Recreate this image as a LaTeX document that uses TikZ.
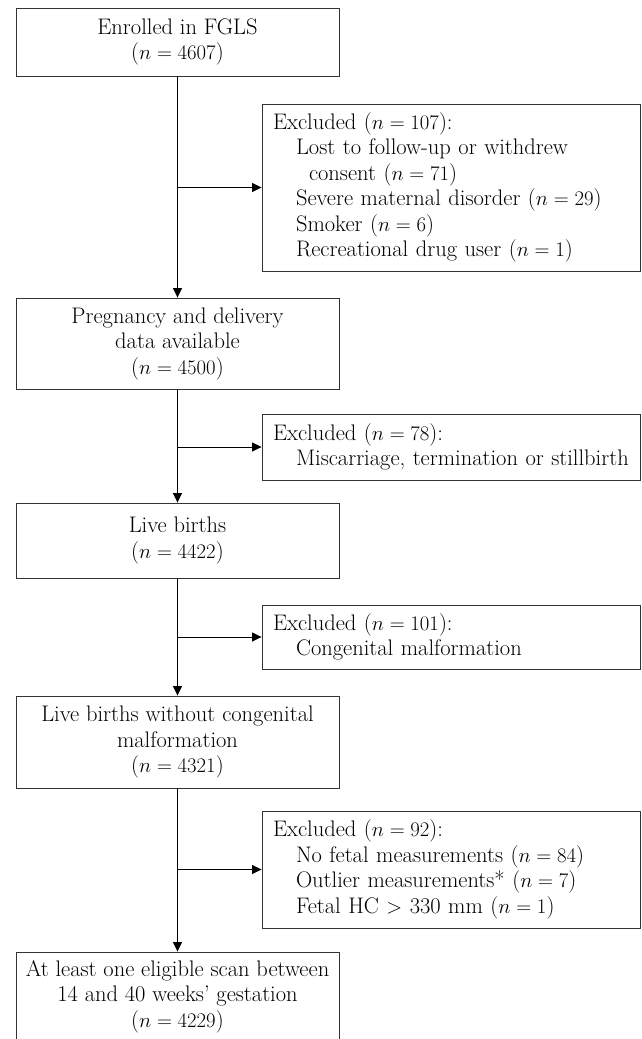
\documentclass[tikz,border=0pt]{standalone}
\usetikzlibrary{arrows.meta}
\newcommand\fz{\fontsize{22.5}{25.5}\selectfont}
\begin{document}
\begin{tikzpicture}[x=1pt,y=-1pt,
  mainbox/.style={draw=black!80, line width=0.9pt, minimum width=323pt, inner sep=0pt, align=center, font=\fz},
  exbox/.style={draw=black!80, line width=0.9pt, minimum width=378pt, text width=356pt, inner xsep=11pt, inner ysep=0pt, align=left, font=\fz},
  arr/.style={line width=0.8pt, -{Triangle[length=9.5pt,width=9pt]}}]
\useasboundingbox (0,0) rectangle (641,1039);
\node[mainbox, minimum height=68pt] (b1) at (177.5,42) {Enrolled in FGLS\\($n = 4607$)};
\node[exbox, minimum height=167pt] (e1) at (451,187.5) {Excluded ($n = 107$):\\
\hspace*{23pt}Lost to follow-up or withdrew\\
\hspace*{36pt}consent ($n = 71$)\\
\hspace*{23pt}Severe maternal disorder ($n = 29$)\\
\hspace*{23pt}Smoker ($n = 6$)\\
\hspace*{23pt}Recreational drug user ($n = 1$)};
\node[mainbox, minimum height=91pt] (b2) at (177.5,343.5) {Pregnancy and delivery\\data available\\($n = 4500$)};
\node[exbox, minimum height=66pt] (e2) at (451,447) {Excluded ($n = 78$):\\
\hspace*{23pt}Miscarriage, termination or stillbirth};
\node[mainbox, minimum height=75pt] (b3) at (177.5,540.5) {Live births\\($n = 4422$)};
\node[exbox, minimum height=64pt] (e3) at (451,637) {Excluded ($n = 101$):\\
\hspace*{23pt}Congenital malformation};
\node[mainbox, minimum height=92pt] (b4) at (177.5,742) {Live births without congenital\\malformation\\($n = 4321$)};
\node[exbox, minimum height=117pt] (e4) at (451,869.5) {Excluded ($n = 92$):\\
\hspace*{23pt}No fetal measurements ($n = 84$)\\
\hspace*{23pt}Outlier measurements* ($n = 7$)\\
\hspace*{23pt}Fetal HC $>$ 330 mm ($n = 1$)};
\node[mainbox, minimum height=89.4pt] (b5) at (177.5,996.7) {At least one eligible scan between\\14 and 40 weeks' gestation\\($n = 4229$)};
\draw[arr] (b1) -- (b2);
\draw[arr] (b2) -- (b3);
\draw[arr] (b3) -- (b4);
\draw[arr] (b4) -- (b5);
\draw[arr] (b1.south |- e1.west) -- (e1.west);
\draw[arr] (b2.south |- e2.west) -- (e2.west);
\draw[arr] (b3.south |- e3.west) -- (e3.west);
\draw[arr] (b4.south |- e4.west) -- (e4.west);
\end{tikzpicture}
\end{document}
